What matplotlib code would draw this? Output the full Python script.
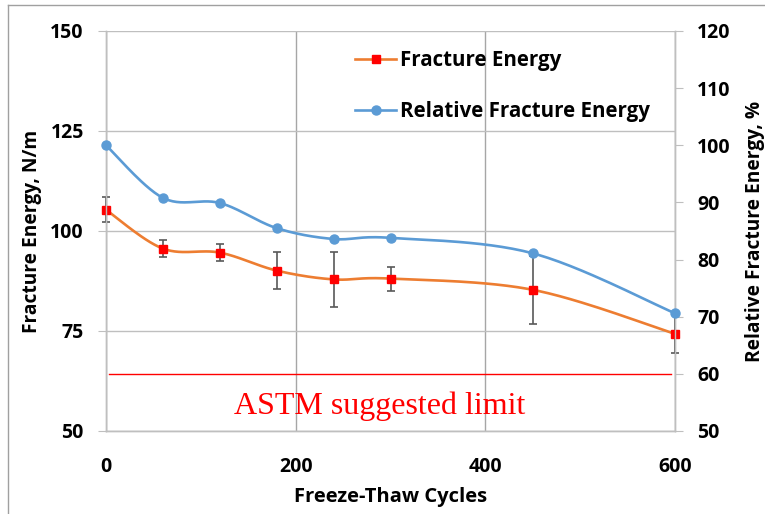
import numpy as np
import matplotlib
matplotlib.use("Agg")
import matplotlib.pyplot as plt
from matplotlib.lines import Line2D

# freeze-thaw test results
cycles = [0, 60, 120, 180, 240, 300, 450, 600]
fracture_energy = [105.3, 95.6, 94.6, 90.1, 87.9, 88.1, 85.3, 74.3]   # N/m
fe_error = [3.1, 2.2, 2.05, 4.6, 6.8, 3.0, 8.5, 4.7]
relative_fe = [100.0, 90.8, 89.9, 85.5, 83.6, 83.8, 81.1, 70.6]        # %
astm_limit = 60      # % of initial fracture energy
astm_span = [3, 596]

ORANGE = "#ED7D31"
BLUE = "#5B9BD5"
GRID = "#bfbfbf"
FONT = "Open Sans"


def smooth_curve(ax, xs, ys, n=30):
    """Excel style smoothed line: cubic bezier through the points, built in screen space."""
    pts = ax.transData.transform(np.column_stack([xs, ys]))
    pts = np.vstack([pts[0], pts, pts[-1]])
    out = []
    for i in range(1, len(pts) - 2):
        p0, p1, p2, p3 = pts[i - 1], pts[i], pts[i + 1], pts[i + 2]
        c1 = p1 + (p2 - p0) / 6.0
        c2 = p2 - (p3 - p1) / 6.0
        t = np.linspace(0, 1, n)[:, None]
        seg = ((1 - t) ** 3) * p1 + 3 * ((1 - t) ** 2) * t * c1 + 3 * (1 - t) * t ** 2 * c2 + t ** 3 * p2
        out.append(seg if i == 1 else seg[1:])
    out = np.vstack(out)
    data = ax.transData.inverted().transform(out)
    return data[:, 0], data[:, 1]


fig = plt.figure(figsize=(7.65, 5.14), dpi=100)
fig.subplots_adjust(left=106 / 765, right=675 / 765, top=1 - 31 / 514, bottom=1 - 431 / 514)
ax = fig.add_subplot(111)
ax2 = ax.twinx()

ax.set_xlim(0, 600)
ax.set_ylim(50, 150)
ax2.set_ylim(50, 120)
ax.set_xticks([0, 200, 400, 600])
ax.set_yticks([50, 75, 100, 125, 150])
ax2.set_yticks(np.arange(50, 121, 10))

for a in (ax, ax2):
    for s in a.spines.values():
        s.set_color(GRID)
        s.set_linewidth(1.0)
    a.spines["top"].set_visible(False)
ax.set_axisbelow(True)
ax.grid(True, color=GRID, linewidth=1.0)
ax.xaxis.grid(True, color="#a6a6a6")

ax.tick_params(axis="x", length=0, pad=19, labelsize=14)
ax.tick_params(axis="y", length=6, color=GRID, pad=10, labelsize=14)
ax2.tick_params(axis="y", length=6, color=GRID, pad=10, labelsize=14)
for lab in ax.get_xticklabels() + ax.get_yticklabels() + ax2.get_yticklabels():
    lab.set_fontfamily(FONT)
    lab.set_fontweight("bold")

fig.canvas.draw()

# fracture energy with error bars
sx, sy = smooth_curve(ax, cycles, fracture_energy)
ax.plot(sx, sy, color=ORANGE, lw=1.9, zorder=3, solid_capstyle="round", clip_on=False)
ax.errorbar(cycles, fracture_energy, yerr=fe_error, fmt="none", ecolor="#595959",
            elinewidth=1.2, capsize=2.8, capthick=1.2, zorder=4, clip_on=False)
ax.plot(cycles, fracture_energy, ls="none", marker="s", ms=6, color="#FF0000",
        mec="#FF0000", zorder=5, clip_on=False)

# relative fracture energy on the right axis
rx, ry = smooth_curve(ax2, cycles, relative_fe)
ax2.plot(rx, ry, color=BLUE, lw=1.9, zorder=3, solid_capstyle="round", clip_on=False)
ax2.plot(cycles, relative_fe, ls="none", marker="o", ms=6.5, color=BLUE, zorder=5,
         clip_on=False)

# ASTM limit
ax2.plot(astm_span, [astm_limit, astm_limit], color="#FF0000", lw=1.0, zorder=2)
ax2.text(289, 54.3, "ASTM suggested limit", color="#FF0000", fontsize=23,
         family="Liberation Serif", ha="center", va="center")

# legend
handles = [
    Line2D([], [], color=ORANGE, lw=1.9, marker="s", ms=6, mfc="#FF0000", mec="#FF0000"),
    Line2D([], [], color=BLUE, lw=1.9, marker="o", ms=6.5, mfc=BLUE, mec=BLUE),
]
leg = ax.legend(handles, ["Fracture Energy", "Relative Fracture Energy"], frameon=False,
                loc="upper left", bbox_to_anchor=(0.405, 0.998), handlelength=2.0,
                handletextpad=0.2, labelspacing=1.45,
                prop={"family": FONT, "weight": "bold", "size": 14.8})

# axis titles
fig.text(32 / 765, 1 - 231 / 514, "Fracture Energy, N/m", rotation=90, ha="center",
         va="center", fontsize=13.8, fontweight="bold", family=FONT)
fig.text(755 / 765, 1 - 231 / 514, "Relative Fracture Energy, %", rotation=90, ha="center",
         va="center", fontsize=13.8, fontweight="bold", family=FONT)
fig.text(390.5 / 765, 1 - 497 / 514, "Freeze-Thaw Cycles", ha="center", va="center",
         fontsize=14.5, fontweight="bold", family=FONT)

# chart frame edges
fig.add_artist(Line2D([8 / 765, 8 / 765], [0, 1 - 5 / 514], transform=fig.transFigure,
                      color="#a0a0a0", lw=1.0))
fig.add_artist(Line2D([8 / 765, 1], [1 - 5 / 514, 1 - 5 / 514], transform=fig.transFigure,
                      color="#a0a0a0", lw=1.0))

fig.savefig("out.png", dpi=100, facecolor="white")
